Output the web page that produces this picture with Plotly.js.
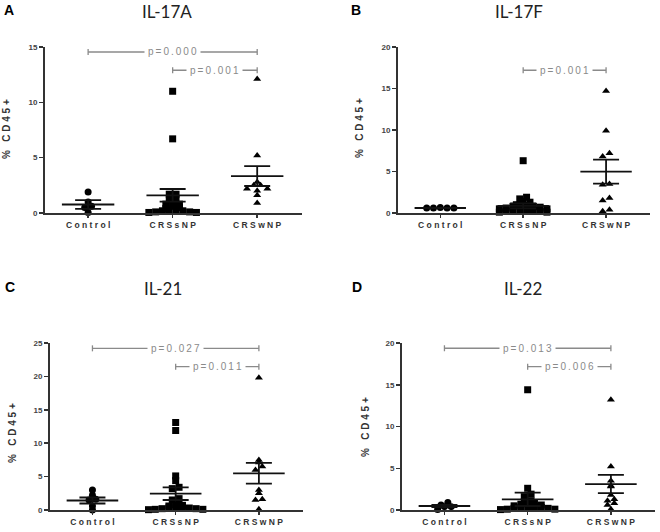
<!DOCTYPE html>
<html>
<head>
<meta charset="utf-8">
<script src="https://cdn.plot.ly/plotly-3.0.1.min.js"></script>
<style>html,body{margin:0;padding:0;background:#fff;}#chart{width:660px;height:532px;}</style>
</head>
<body>
<div id="chart"></div>
<script>
// ---------- DATA ----------
const categories = ['Control', 'CRSsNP', 'CRSwNP'];
const panelLetters = ['A', 'B', 'C', 'D'];
const panelTitles = ['IL-17A', 'IL-17F', 'IL-21', 'IL-22'];
const yAxisTitle = '% CD45+';
const yMax = [15, 20, 25, 20];
const yTickStep = [5, 5, 5, 5];

// IL-17A
const a_control = [1.9, 1.0, 0.6, 0.5, 0.05];
const a_crssnp = [11.0, 6.7, 1.7, 1.7, 1.3, 1.2, 0.9, 0.8, 0.8, 0.6, 0.5, 0.4, 0.3, 0.3, 0.2, 0.2, 0.1, 0.1, 0.05, 0.05];
const a_crswnp = [12.1, 5.2, 2.8, 2.5, 2.5, 2.2, 2.2, 2.0, 1.6, 0.9];
const a_mean = [0.77, 1.6, 3.34];
const a_sem = [0.4, 0.57, 0.9];

// IL-17F
const b_control = [0.6, 0.6, 0.6, 0.6, 0.65];
const b_crssnp = [6.3, 1.9, 1.7, 1.4, 1.3, 1.0, 0.9, 0.9, 0.8, 0.8, 0.7, 0.6, 0.5, 0.5, 0.4, 0.4, 0.3, 0.3, 0.2, 0.2, 0.1, 0.1];
const b_crswnp = [14.7, 9.9, 7.2, 6.8, 3.5, 3.4, 1.8, 1.5, 0.4, 0.2];
const b_mean = [0.6, 0.85, 4.98];
const b_sem = [0.02, 0.3, 1.45];

// IL-21
const c_control = [3.0, 2.2, 1.6, 1.5, 0.6, 0.0];
const c_crssnp = [13.1, 11.9, 5.1, 4.4, 3.4, 3.2, 1.7, 1.5, 0.8, 0.7, 0.6, 0.5, 0.4, 0.3, 0.3, 0.2, 0.2, 0.1, 0.1, 0.05];
const c_crswnp = [19.8, 7.5, 7.1, 6.5, 6.0, 3.0, 2.5, 1.6, 1.5, 0.1];
const c_mean = [1.42, 2.45, 5.49];
const c_sem = [0.45, 0.95, 1.55];

// IL-22
const d_control = [0.9, 0.4, 0.4, 0.05, 0.6];
const d_crssnp = [14.4, 2.6, 1.9, 1.6, 1.1, 1.0, 0.9, 0.8, 0.7, 0.6, 0.5, 0.4, 0.4, 0.3, 0.3, 0.2, 0.2, 0.1, 0.1, 0.05];
const d_crswnp = [13.2, 5.2, 3.5, 2.9, 2.8, 1.8, 1.3, 1.1, 0.8, 0.6, 0.1];
const d_mean = [0.48, 1.28, 3.11];
const d_sem = [0.12, 0.8, 1.1];

// significance brackets: [fromCategory, toCategory]
const bracketPairs = [
  [[0, 2], [1, 2]],
  [[1, 2]],
  [[0, 2], [1, 2]],
  [[0, 2], [1, 2]]
];
const bracketLevels = [
  [14.55, 12.9],
  [17.2],
  [24.2, 21.45],
  [19.37, 17.16]
];
const bracketLabels = [
  ['p=0.000', 'p=0.001'],
  ['p=0.001'],
  ['p=0.027', 'p=0.011'],
  ['p=0.013', 'p=0.006']
];

const groupValues = [
  [a_control, a_crssnp, a_crswnp],
  [b_control, b_crssnp, b_crswnp],
  [c_control, c_crssnp, c_crswnp],
  [d_control, d_crssnp, d_crswnp]
];
const groupMeans = [a_mean, b_mean, c_mean, d_mean];
const groupSems = [a_sem, b_sem, c_sem, d_sem];

// ---------- LAYOUT GEOMETRY ----------
const W = 660, H = 532;
const domains = [
  {x: [45 / W, 302 / W], y: [1 - 213 / H, 1 - 47 / H]},
  {x: [398 / W, 650 / W], y: [1 - 213 / H, 1 - 47 / H]},
  {x: [50 / W, 303 / W], y: [1 - 510 / H, 1 - 343 / H]},
  {x: [402 / W, 655 / W], y: [1 - 510 / H, 1 - 343 / H]}
];
const xRange = [-0.51, 2.53];
const symbols = ['circle', 'square', 'triangle-up'];
const rowPx = 4;
const gapPx = 6.8;
const meanHalf = 0.31;

function spaced(s, sep) { return s.split('').join(sep); }

// row-binned scatter (Prism-like): points in the same value band sit side by side
function swarm(vals, pxX, pxY) {
  const bins = {};
  vals.forEach((v, i) => {
    const b = Math.floor(v * pxY / rowPx);
    (bins[b] = bins[b] || []).push(i);
  });
  const off = new Array(vals.length).fill(0);
  Object.keys(bins).forEach(b => {
    const idx = bins[b].slice().sort((a, c) => vals[c] - vals[a]);
    const n = idx.length;
    const slots = [];
    for (let k = 0; k < n; k++) slots.push(k - (n - 1) / 2);
    slots.sort((s1, s2) => Math.abs(s1) - Math.abs(s2) || s2 - s1);
    idx.forEach((i, k) => { off[i] = slots[k] * gapPx / pxX; });
  });
  return off;
}

const traces = [];
const annotations = [];
const layout = {
  width: W, height: H,
  margin: {l: 0, r: 0, t: 0, b: 0},
  paper_bgcolor: '#fff', plot_bgcolor: '#fff',
  showlegend: false,
  font: {family: 'Liberation Sans, Arial, sans-serif', color: '#333'}
};

const titleCenters = [[167, 12], [519, 12], [163, 288], [523, 288]];
const letterPos = [[9, 10], [356, 10], [10, 287], [357, 287]];
const yTitlePos = [[7, 129], [359, 128], [12, 433], [365, 427]];

for (let p = 0; p < 4; p++) {
  const sfx = p === 0 ? '' : String(p + 1);
  const xa = 'x' + sfx, ya = 'y' + sfx;
  const dom = domains[p];
  const pxX = (dom.x[1] - dom.x[0]) * W / (xRange[1] - xRange[0]);
  const pxY = (dom.y[1] - dom.y[0]) * H / yMax[p];

  const tv = [];
  for (let t = 0; t <= yMax[p]; t += yTickStep[p]) tv.push(t);

  layout['xaxis' + sfx] = {
    domain: dom.x, anchor: ya, range: xRange,
    tickvals: [0, 1, 2],
    ticktext: categories.map(c => spaced(c, ' ')),
    ticks: 'outside', ticklen: 3, tickwidth: 1.5, tickcolor: '#333',
    showline: true, linecolor: '#333', linewidth: 2,
    showgrid: false, zeroline: false, fixedrange: true,
    tickfont: {size: 8.5, color: '#333', weight: 'bold'}
  };
  layout['yaxis' + sfx] = {
    domain: dom.y, anchor: xa, range: [0, yMax[p]],
    tickvals: tv, ticktext: tv.map(String),
    ticks: 'outside', ticklen: 4, tickwidth: 1.5, tickcolor: '#333',
    showline: true, linecolor: '#333', linewidth: 2,
    showgrid: false, zeroline: false, fixedrange: true,
    tickfont: {size: 8, color: '#444', weight: 'bold'}
  };

  for (let g = 0; g < 3; g++) {
    const vals = groupValues[p][g];
    const off = swarm(vals, pxX, pxY);
    traces.push({
      type: 'scatter', mode: 'markers', xaxis: xa, yaxis: ya,
      x: vals.map((v, i) => g + off[i]), y: vals,
      marker: {symbol: symbols[g], size: g === 2 ? 7 : 7, color: '#000', line: {width: 0}},
      cliponaxis: false, hoverinfo: 'y'
    });
    const m = groupMeans[p][g];
    traces.push({
      type: 'scatter', mode: 'lines', xaxis: xa, yaxis: ya,
      x: [g - meanHalf, g + meanHalf], y: [m, m],
      line: {color: '#111', width: 1.8}, cliponaxis: false, hoverinfo: 'skip'
    });
    traces.push({
      type: 'scatter', mode: 'markers', xaxis: xa, yaxis: ya,
      x: [g], y: [m], marker: {size: 0.1, color: 'rgba(0,0,0,0)'},
      error_y: {type: 'data', array: [groupSems[p][g]], visible: true, color: '#111', thickness: 1.8, width: 13},
      cliponaxis: false, hoverinfo: 'skip'
    });
  }

  bracketPairs[p].forEach((pair, k) => {
    const lvl = bracketLevels[p][k];
    const h = 3 / pxY;
    const x0 = pair[0], x1 = pair[1];
    traces.push({
      type: 'scatter', mode: 'lines', xaxis: xa, yaxis: ya,
      x: [x0, x0, null, x0, x1, null, x1, x1],
      y: [lvl - h, lvl + h, null, lvl, lvl, null, lvl - h, lvl + h],
      line: {color: '#8a8a8a', width: 1.3}, cliponaxis: false, hoverinfo: 'skip'
    });
    annotations.push({
      xref: xa, yref: ya, x: (x0 + x1) / 2, y: lvl,
      text: spaced(bracketLabels[p][k], '\u2009'),
      showarrow: false, bgcolor: '#fff', borderpad: 3,
      font: {size: 10, color: '#8a8a8a', family: 'Liberation Sans, Arial, sans-serif'}
    });
  });

  annotations.push({
    xref: 'paper', yref: 'paper', x: titleCenters[p][0] / W, y: 1 - titleCenters[p][1] / H,
    xanchor: 'center', yanchor: 'middle', showarrow: false,
    text: panelTitles[p], font: {family: 'Lato, Open Sans, sans-serif', size: 17, color: '#222'}
  });
  annotations.push({
    xref: 'paper', yref: 'paper', x: letterPos[p][0] / W, y: 1 - letterPos[p][1] / H,
    xanchor: 'center', yanchor: 'middle', showarrow: false,
    text: panelLetters[p], font: {family: 'Liberation Sans, Arial, sans-serif', size: 14, color: '#000', weight: 'bold'}
  });
  annotations.push({
    xref: 'paper', yref: 'paper', x: yTitlePos[p][0] / W, y: 1 - yTitlePos[p][1] / H,
    xanchor: 'center', yanchor: 'middle', showarrow: false, textangle: -90,
    text: spaced(yAxisTitle, ' '), font: {family: 'Liberation Sans, Arial, sans-serif', size: 10, color: '#333', weight: 'bold'}
  });
}
layout.annotations = annotations;

Plotly.newPlot('chart', traces, layout, {staticPlot: true, displayModeBar: false});
</script>
</body>
</html>
